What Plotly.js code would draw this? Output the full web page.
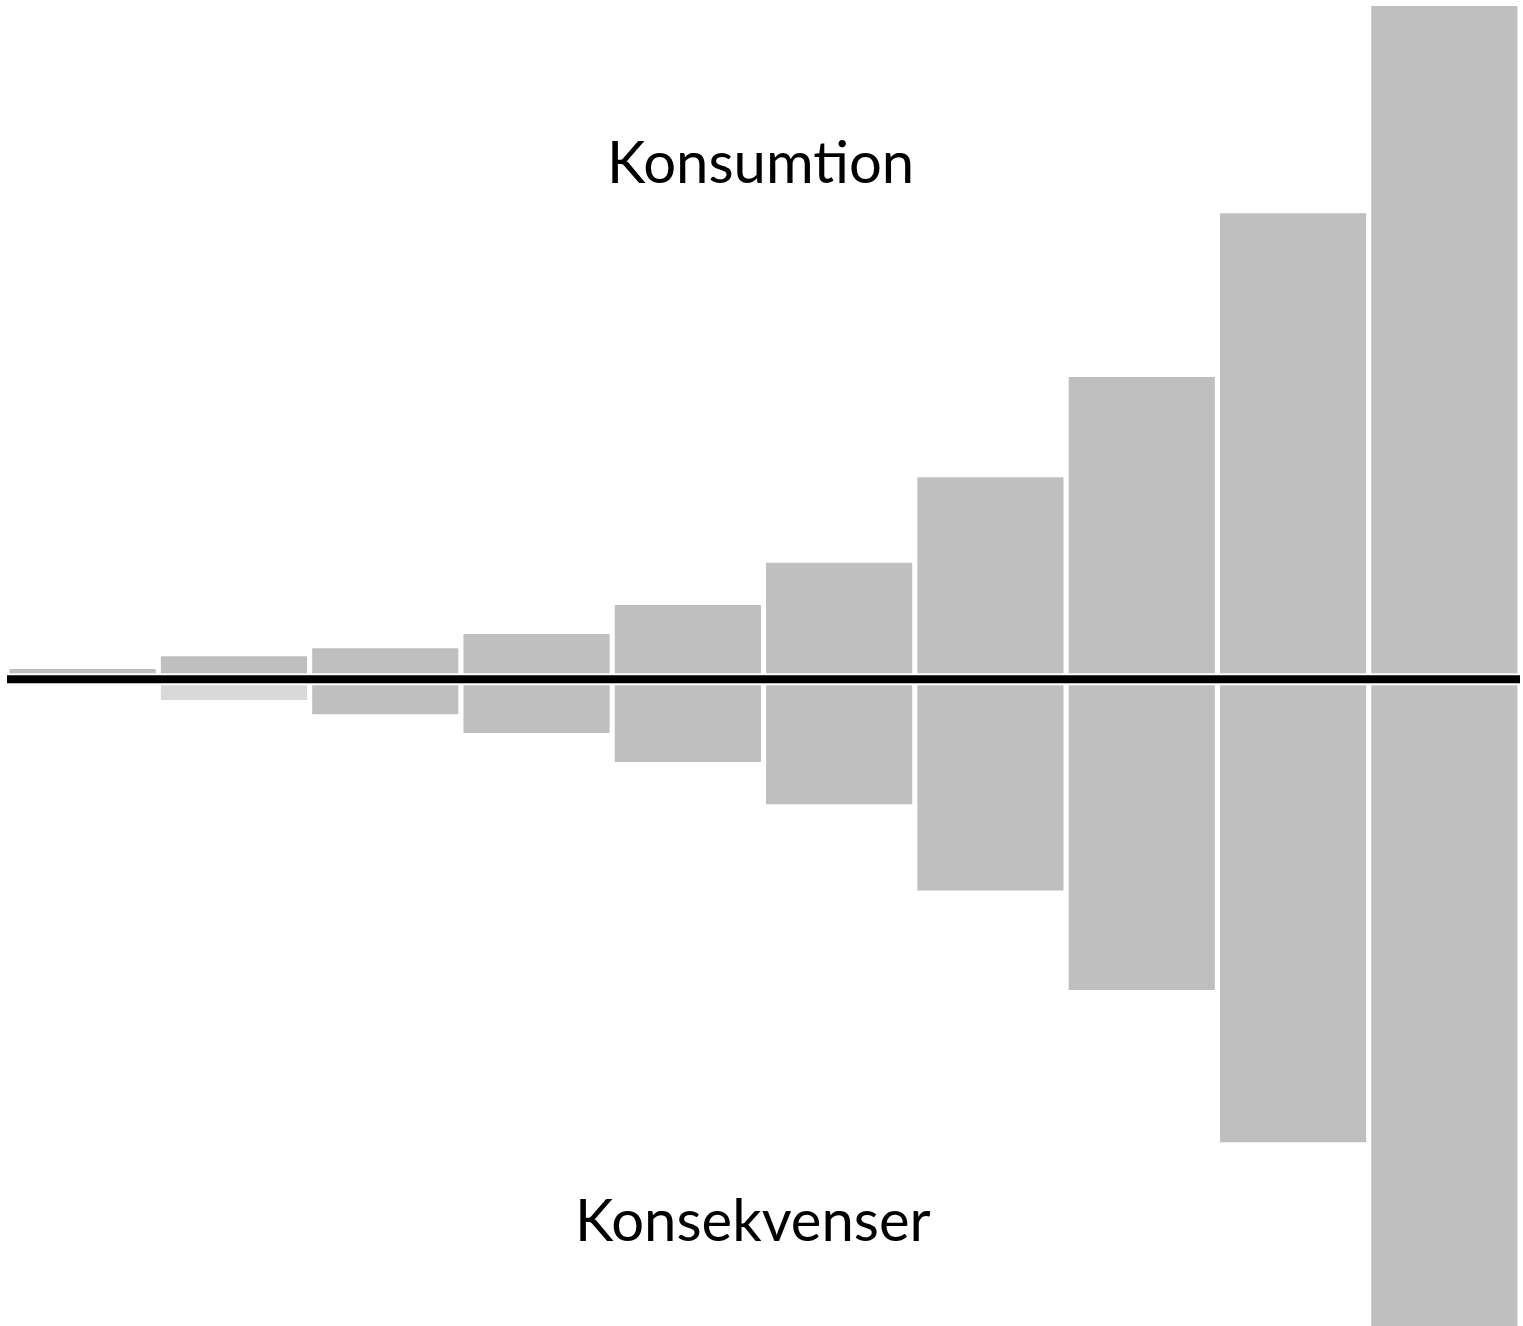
<!DOCTYPE html>
<html>
<head>
<meta charset="utf-8">
<script src="https://cdn.plot.ly/plotly-3.0.1.min.js"></script>
<style>html,body{margin:0;padding:0;background:#fff;}#chart{width:1523px;height:1326px;}</style>
</head>
<body>
<div id="chart"></div>
<script>
var steps = ["1","2","3","4","5","6","7","8","9","10"];
var konsumtion = [1.5, 3.4, 4.6, 6.7, 11.0, 17.3, 30.0, 44.9, 69.2, 100];
var konsekvenser = [0, -3.1, -5.2, -8.0, -12.3, -18.6, -31.4, -46.2, -68.8, -100];
var downColors = ["#bfbfbf","#d9d9d9","#bfbfbf","#bfbfbf","#bfbfbf","#bfbfbf","#bfbfbf","#bfbfbf","#bfbfbf","#bfbfbf"];

var traces = [
  {type:"bar", x:steps, y:konsumtion, marker:{color:"#bfbfbf", line:{width:0}}, hoverinfo:"y", name:"Konsumtion"},
  {type:"bar", x:steps, y:konsekvenser, marker:{color:downColors, line:{width:0}}, hoverinfo:"y", name:"Konsekvenser"}
];

var layout = {
  width:1523, height:1326,
  margin:{l:7, r:3, t:0, b:0, pad:0},
  paper_bgcolor:"#ffffff", plot_bgcolor:"#ffffff",
  barmode:"relative", bargap:0.034,
  showlegend:false,
  xaxis:{type:"category", range:[-0.5, 9.5], visible:false, fixedrange:true},
  yaxis:{range:[-96.1, 100.9], visible:false, fixedrange:true, zeroline:false},
  shapes:[
    {type:"line", xref:"paper", yref:"y", x0:0, x1:1, y0:0, y1:0, line:{color:"#ffffff", width:12}, layer:"above"},
    {type:"line", xref:"paper", yref:"y", x0:0, x1:1, y0:0, y1:0, line:{color:"#000000", width:8}, layer:"above"}
  ],
  annotations:[
    {xref:"paper", yref:"paper", x:0.4977, y:0.879, text:"Konsumtion", showarrow:false, xanchor:"center", yanchor:"middle", font:{family:"Lato, 'Open Sans', sans-serif", size:58, color:"#000000"}},
    {xref:"paper", yref:"paper", x:0.493, y:0.0814, text:"Konsekvenser", showarrow:false, xanchor:"center", yanchor:"middle", font:{family:"Lato, 'Open Sans', sans-serif", size:58, color:"#000000"}}
  ]
};

Plotly.newPlot("chart", traces, layout, {displayModeBar:false, staticPlot:true});
</script>
</body>
</html>
